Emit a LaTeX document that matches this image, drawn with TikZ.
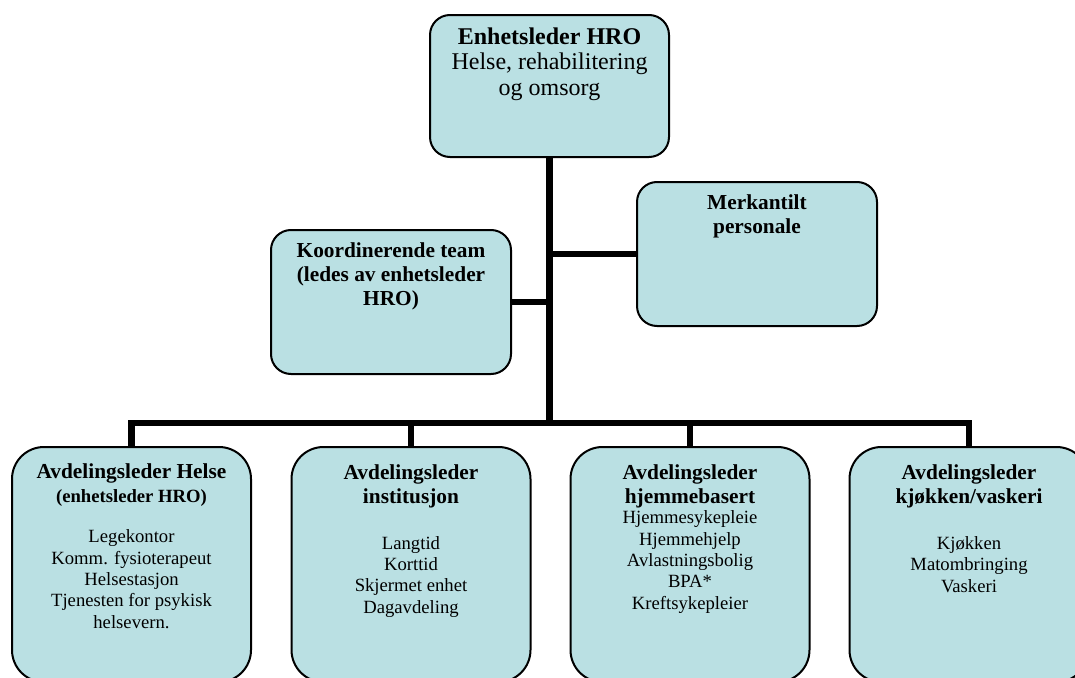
\documentclass[tikz,border=0pt]{standalone}
\usepackage{fontspec}
\setmainfont{Liberation Serif}
\definecolor{boxfill}{RGB}{186,224,227}
\begin{document}
\begin{tikzpicture}[x=0.75pt,y=-0.75pt,
  box/.style={draw=black,line width=1.5pt,fill=boxfill,inner sep=0pt,outer sep=0pt},
  smallbox/.style={box,rounded corners=15pt,minimum width=180pt,minimum height=108pt},
  bigbox/.style={box,rounded corners=24pt,minimum width=179.25pt,minimum height=176.25pt},
  conn/.style={draw=black,line width=5pt,line join=miter},
  toptext/.style={anchor=base,align=center,inner sep=0pt,font=\fontsize{18}{19}\selectfont},
  midtext/.style={anchor=base,align=center,inner sep=0pt,font=\fontsize{16}{18}\selectfont\bfseries},
  titletext/.style={anchor=base,align=center,inner sep=0pt,font=\fontsize{16}{18}\selectfont\bfseries},
  itemtext/.style={anchor=base,align=center,inner sep=0pt,font=\fontsize{14}{16}\selectfont}
]
\useasboundingbox (0,0) rectangle (1075,678);
\clip (0,0) rectangle (1075,678);

% boxes
\node[smallbox,minimum width=179.25pt,minimum height=106.5pt] (top) at (549.5,86) {};
\node[smallbox] (merk) at (757,254) {};
\node[smallbox] (koord) at (391,302) {};
\node[bigbox] (b1) at (131.5,564.5) {};
\node[bigbox] (b2) at (411,564.5) {};
\node[bigbox] (b3) at (690,564.5) {};
\node[bigbox] (b4) at (969,564.5) {};

% connectors
\coordinate (bus) at (549,423);
\draw[conn] (top.south) -- (top.south |- bus);
\draw[conn] (koord.east) -- (koord.east -| top.south);
\draw[conn] (merk.west) -- (merk.west -| top.south);
\draw[conn] (b1.north) -- (b1.north |- bus) -- (b4.north |- bus) -- (b4.north);
\draw[conn] (b2.north) -- (b2.north |- bus);
\draw[conn] (b3.north) -- (b3.north |- bus);

% texts (anchor base = baseline of the last line)
\node[toptext] (topt) at (549.5,95) {\textbf{Enhetsleder HRO}\\Helse, rehabilitering\\og omsorg};
\node[midtext] (merkt) at (757,233) {Merkantilt\\personale};
\node[midtext] (koordt) at (391,305) {Koordinerende team\\(ledes av enhetsleder\\HRO)};

\node[titletext] (b1t) at (131.5,502) {Avdelingsleder Helse\\{\fontsize{14}{16}\selectfont(enhetsleder HRO)}};
\node[itemtext] (b1i) at (131.5,628) {Legekontor\\Komm. fysioterapeut\\Helsestasjon\\Tjenesten for psykisk\\helsevern.};

\node[titletext] (b2t) at (411,503) {Avdelingsleder\\institusjon};
\node[itemtext] (b2i) at (411,613) {Langtid\\Korttid\\Skjermet enhet\\Dagavdeling};

\node[titletext] (b3t) at (690,503) {Avdelingsleder\\hjemmebasert};
\node[itemtext] (b3i) at (690,609) {Hjemmesykepleie\\Hjemmehjelp\\Avlastningsbolig\\BPA*\\Kreftsykepleier};

\node[titletext] (b4t) at (969,503) {Avdelingsleder\\kjøkken/vaskeri};
\node[itemtext] (b4i) at (969,592) {Kjøkken\\Matombringing\\Vaskeri};
\end{tikzpicture}
\end{document}
